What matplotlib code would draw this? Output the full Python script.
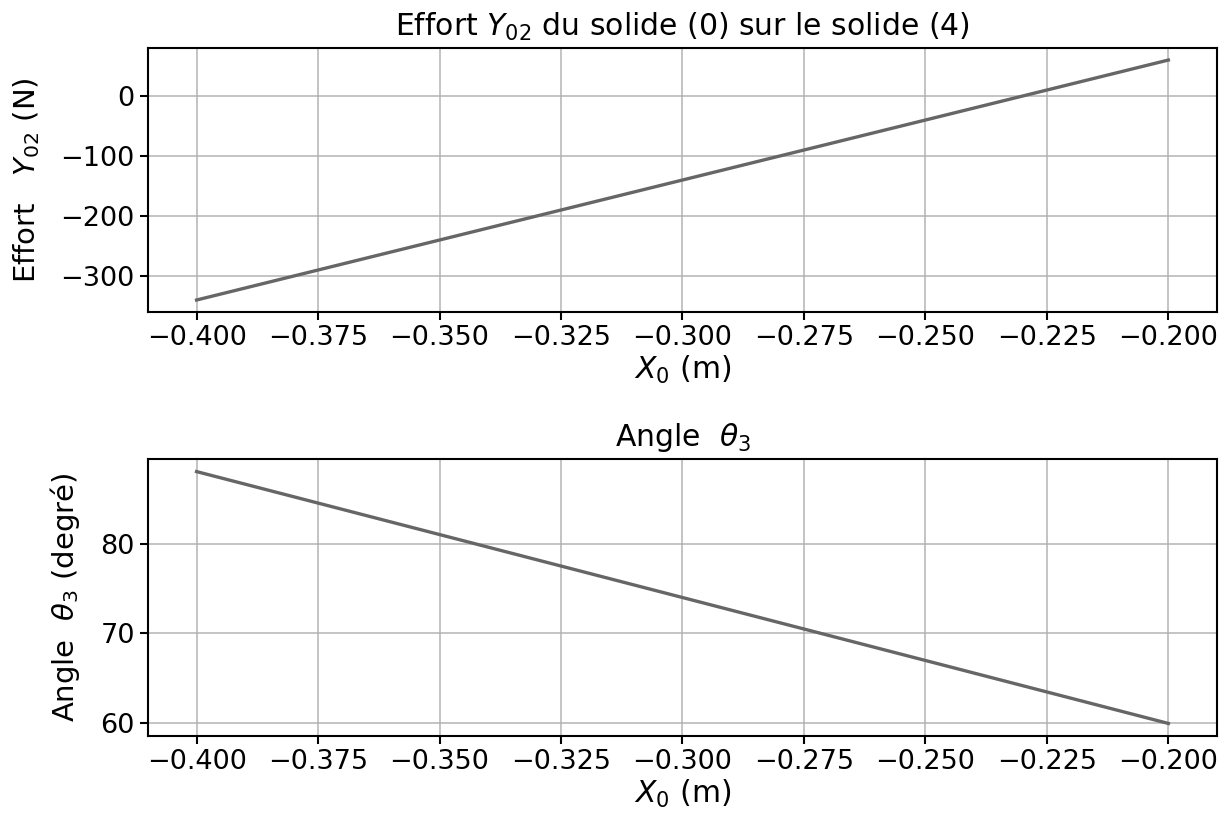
import matplotlib
matplotlib.use("Agg")
import matplotlib.pyplot as plt

x0 = [-0.400, -0.350, -0.300, -0.250, -0.200]
effort_y02 = [-340, -240, -140, -40, 60]
angle_theta3 = [88, 81, 74, 67, 60]
xticks = [-0.400, -0.375, -0.350, -0.325, -0.300, -0.275, -0.250, -0.225, -0.200]

plt.rcParams['font.size'] = 19.5
plt.rcParams['axes.linewidth'] = 1.5
plt.rcParams['xtick.major.width'] = 1.5
plt.rcParams['ytick.major.width'] = 1.5
plt.rcParams['xtick.major.size'] = 6
plt.rcParams['ytick.major.size'] = 6

fig = plt.figure(figsize=(12.28, 8.17), dpi=100)
ax1 = fig.add_axes([0.1205, 0.6181, 0.8705, 0.3231])
ax2 = fig.add_axes([0.1205, 0.0991, 0.8705, 0.3391])

for ax in (ax1, ax2):
    ax.grid(True, color='#b0b0b0', linewidth=1.3, alpha=0.8)
    ax.set_axisbelow(True)
    ax.set_xticks(xticks)
    ax.set_xticklabels([f"{t:.3f}".replace('-', '\u2212') for t in xticks])
    ax.tick_params(labelsize=19.5)

ax1.plot(x0, effort_y02, color='#666666', linewidth=2.4)
ax1.set_yticks([0, -100, -200, -300])
ax1.set_title(r"Effort $Y_{02}$ du solide (0) sur le solide (4)", fontsize=21.5, pad=9)
ax1.set_xlabel(r"$X_0$ (m)", fontsize=21.5, labelpad=2)
ax1.set_ylabel(r"Effort   $Y_{02}$ (N)", fontsize=21, labelpad=13)

ax2.plot(x0, angle_theta3, color='#666666', linewidth=2.4)
ax2.set_yticks([60, 70, 80])
ax2.set_title(r"Angle  $\theta_3$", fontsize=21.5, pad=9)
ax2.set_xlabel(r"$X_0$ (m)", fontsize=21.5, labelpad=2)
ax2.set_ylabel(r"Angle  $\theta_3$ (degré)", fontsize=21, labelpad=13)

fig.savefig("out.png", dpi=100)
